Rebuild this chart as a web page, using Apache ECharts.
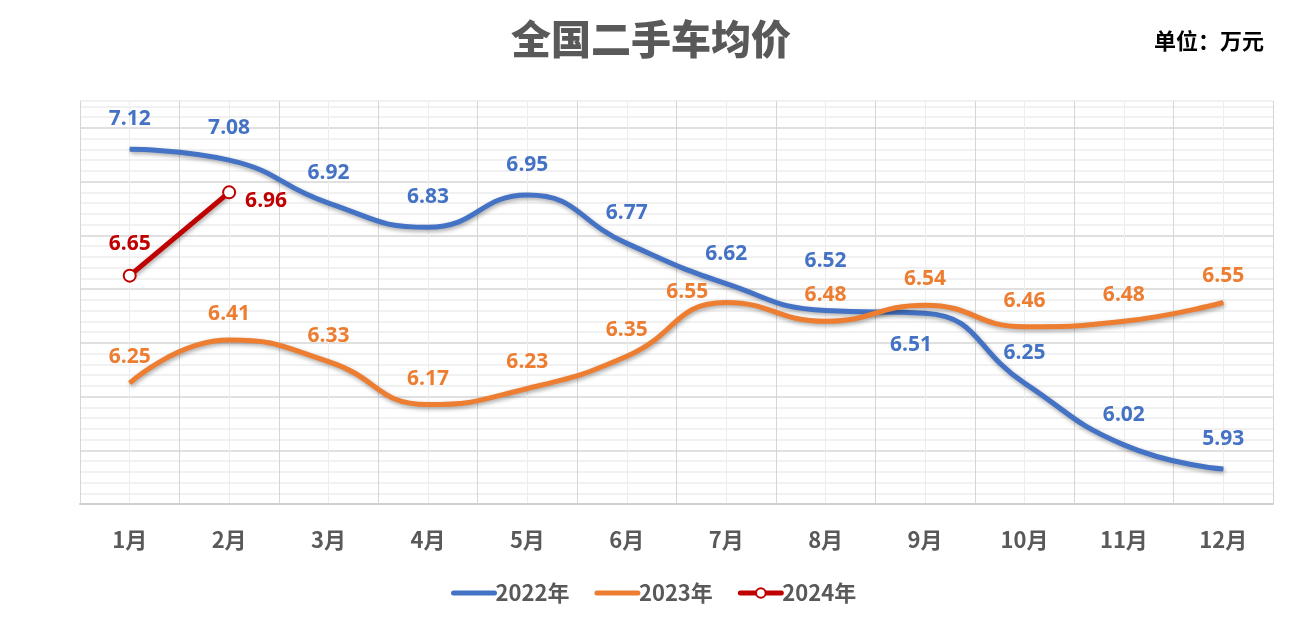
<!DOCTYPE html>
<html>
<head>
<meta charset="utf-8">
<script src="https://cdn.jsdelivr.net/npm/echarts@6/dist/echarts.min.js"></script>
<style>
  html, body { margin: 0; padding: 0; background: #fff; }
  #chart { width: 1316px; height: 628px; }
</style>
</head>
<body>
<div id="chart"></div>
<script>
const months = ['1月', '2月', '3月', '4月', '5月', '6月', '7月', '8月', '9月', '10月', '11月', '12月']
const price2022 = [7.12, 7.08, 6.92, 6.83, 6.95, 6.77, 6.62, 6.52, 6.51, 6.25, 6.02, 5.93]
const price2023 = [6.25, 6.41, 6.33, 6.17, 6.23, 6.35, 6.55, 6.48, 6.54, 6.46, 6.48, 6.55]
const price2024 = [6.65, 6.96]

const cjk = '"Noto Sans CJK SC", sans-serif'
const num = '"Open Sans", "Noto Sans CJK SC", sans-serif'

const lineShadow = {
  shadowColor: 'rgba(0, 0, 0, 0.35)',
  shadowBlur: 4,
  shadowOffsetX: 1,
  shadowOffsetY: 2
}

// labels sit centred on the point, moved by offset
function withLabels(values, moved) {
  return values.map((v, i) => {
    const item = { value: v }
    if (moved[i]) {
      item.label = { offset: moved[i] }
    }
    return item
  })
}

const chart = echarts.init(document.getElementById('chart'))

chart.setOption({
  animation: false,
  title: [
    {
      text: '全国二手车均价',
      left: 506,
      top: 14,
      textStyle: { fontFamily: cjk, fontSize: 40, fontWeight: 900, color: '#595959' }
    },
    {
      text: '单位：万元',
      left: 1149,
      top: 25,
      textStyle: { fontFamily: cjk, fontSize: 22, fontWeight: 'bold', color: '#000' }
    }
  ],
  legend: {
    top: 577,
    left: 446,
    itemWidth: 41,
    itemHeight: 12,
    itemGap: 25,
    textStyle: { fontFamily: cjk, fontSize: 22, fontWeight: 'bold', color: '#595959', padding: [0, 0, 0, -4] },
    data: [
      { name: '2022年', itemStyle: { opacity: 0 }, lineStyle: { width: 5, cap: 'round' } },
      { name: '2023年', itemStyle: { opacity: 0 }, lineStyle: { width: 5, cap: 'round' } },
      { name: '2024年', lineStyle: { width: 5, cap: 'round' } }
    ]
  },
  grid: { left: 80, right: 43, top: 101, bottom: 124 },
  xAxis: [
    {
      type: 'category',
      data: months,
      boundaryGap: true,
      axisLine: { lineStyle: { color: '#d0d0d0', width: 2 } },
      axisTick: { show: false },
      splitLine: { show: false },
      axisLabel: { fontFamily: cjk, fontSize: 22, fontWeight: 'bold', color: '#595959', margin: 25 }
    },
    {
      // half-month grid: dark at month edges, light at month centres
      type: 'value',
      min: 0,
      max: 24,
      interval: 1,
      position: 'top',
      axisLine: { show: false },
      axisTick: { show: false },
      axisLabel: { show: false },
      splitLine: { show: true, lineStyle: { color: ['#d6d6d6', '#ededed'], width: 1 } }
    }
  ],
  yAxis: {
    type: 'value',
    min: 5.8,
    max: 7.3,
    interval: 0.04,
    axisLine: { show: false },
    axisTick: { show: false },
    axisLabel: { show: false },
    splitLine: {
      lineStyle: { color: ['#d6d6d6', '#ececec', '#ececec', '#ececec', '#ececec'], width: 1.5 }
    }
  },
  series: [
    {
      name: '2022年',
      type: 'line',
      smooth: 0.5,
      symbol: 'circle',
      symbolSize: 1,
      itemStyle: { color: '#4472C4' },
      lineStyle: Object.assign({ color: '#4472C4', width: 5 }, lineShadow),
      label: {
        show: true,
        position: 'inside',
        offset: [0, -30],
        fontFamily: num,
        fontSize: 21,
        fontWeight: 'bold',
        color: '#4472C4'
      },
      data: withLabels(price2022, { 1: [0, -32], 7: [0, -50], 8: [-14, 32] }),
      z: 3
    },
    {
      name: '2023年',
      type: 'line',
      smooth: 0.5,
      symbol: 'circle',
      symbolSize: 1,
      itemStyle: { color: '#ED7D31' },
      lineStyle: Object.assign({ color: '#ED7D31', width: 5 }, lineShadow),
      label: {
        show: true,
        position: 'inside',
        offset: [0, -26],
        fontFamily: num,
        fontSize: 21,
        fontWeight: 'bold',
        color: '#ED7D31'
      },
      data: withLabels(price2023, { 6: [-39, -10] }),
      z: 4
    },
    {
      name: '2024年',
      type: 'line',
      symbol: 'circle',
      symbolSize: 12,
      itemStyle: { color: '#fff', borderColor: '#C00000', borderWidth: 2 },
      lineStyle: Object.assign({ color: '#C00000', width: 5 }, lineShadow),
      label: {
        show: true,
        position: 'inside',
        offset: [0, -32],
        fontFamily: num,
        fontSize: 21,
        fontWeight: 'bold',
        color: '#C00000'
      },
      data: withLabels(price2024, { 1: [37, 9] }),
      z: 5
    }
  ]
})
</script>
</body>
</html>
